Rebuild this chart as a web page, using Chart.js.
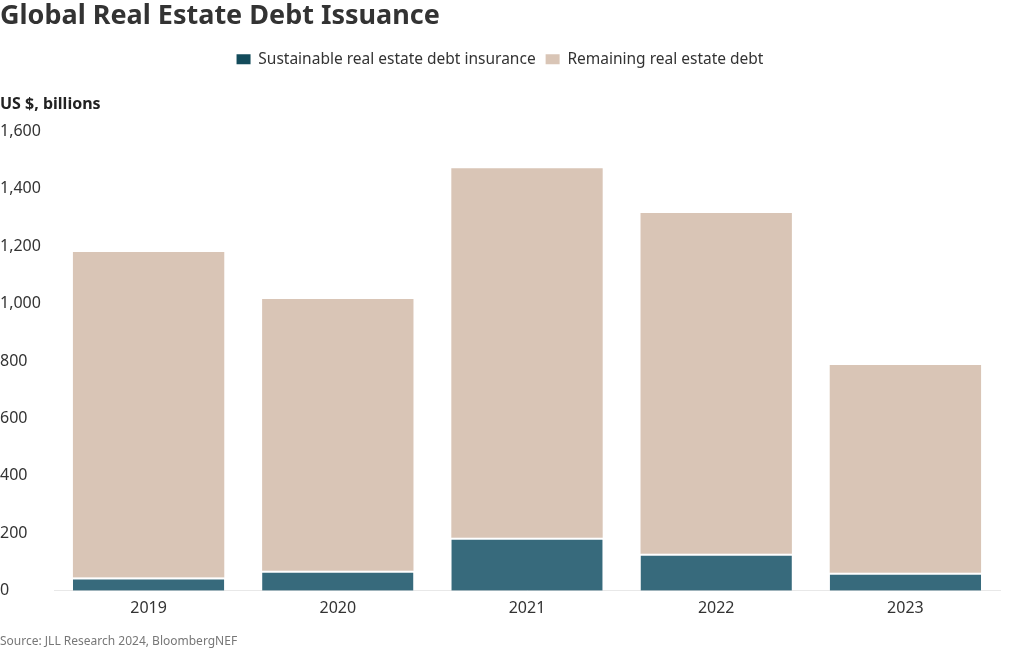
<!DOCTYPE html>
<html>
<head>
<meta charset="utf-8">
<script src="https://cdn.jsdelivr.net/npm/chart.js@4"></script>
<style>
html,body{margin:0;padding:0;background:#fff;}
#wrap{width:1020px;height:650px;position:relative;}
</style>
</head>
<body>
<div id="wrap"><canvas id="c"></canvas></div>
<script>
const categories = ["2019", "2020", "2021", "2022", "2023"];
const sustainable = [46, 70, 185, 129, 63];
const remaining = [1133, 946, 1286, 1186, 723];
const yTicks = [0, 200, 400, 600, 800, 1000, 1200, 1400, 1600];
const seriesNames = ["Sustainable real estate debt insurance", "Remaining real estate debt"];

const FONT = "'Noto Sans', 'Open Sans', sans-serif";

const sourceNote = {
  id: 'sourceNote',
  afterDraw(chart) {
    const ctx = chart.ctx;
    ctx.save();
    ctx.font = "12px " + FONT;
    ctx.fillStyle = "#777";
    ctx.textBaseline = "middle";
    ctx.textAlign = "left";
    ctx.fillText("Source: JLL Research 2024, BloombergNEF", 0, 642);
    ctx.restore();
  }
};

new Chart(document.getElementById('c'), {
  type: 'bar',
  data: {
    labels: categories,
    datasets: [
      {
        label: seriesNames[0],
        data: sustainable,
        backgroundColor: '#376a7c',
        borderColor: '#ffffff',
        borderWidth: {top: 2, left: 0, right: 0, bottom: 0},
        borderSkipped: 'start',
        categoryPercentage: 0.8,
        barPercentage: 1.0
      },
      {
        label: seriesNames[1],
        data: remaining,
        backgroundColor: '#d9c5b6',
        borderWidth: 0,
        categoryPercentage: 0.8,
        barPercentage: 1.0
      }
    ]
  },
  options: {
    responsive: true,
    maintainAspectRatio: false,
    animation: false,
    layout: {padding: {left: 0, right: 20, top: 0, bottom: 32}},
    plugins: {
      title: {
        display: true,
        text: "Global Real Estate Debt Issuance",
        align: 'start',
        color: '#333',
        font: {family: FONT, size: 27, weight: 'bold'},
        padding: {top: 0, bottom: 9}
      },
      subtitle: {
        display: true,
        text: "US $, billions",
        align: 'start',
        color: '#222',
        weight: 500,
        font: {family: FONT, size: 16, weight: 'bold'},
        padding: {top: 18, bottom: 17}
      },
      legend: {
        display: true,
        position: 'top',
        align: 'center',
        labels: {
          color: '#333',
          font: {family: FONT, size: 15.5},
          boxWidth: 14,
          boxHeight: 10,
          padding: 10,
          generateLabels(chart) {
            const items = Chart.defaults.plugins.legend.labels.generateLabels(chart);
            items.forEach((it, i) => {
              it.fillStyle = i === 0 ? '#134b5b' : '#d9c5b6';
              it.strokeStyle = it.fillStyle;
              it.lineWidth = 0;
            });
            return items;
          }
        }
      },
      tooltip: {enabled: false}
    },
    scales: {
      x: {
        stacked: true,
        grid: {display: false},
        border: {display: true, color: '#e8e8e8', width: 1},
        ticks: {color: '#333', font: {family: FONT, size: 16}, padding: 0}
      },
      y: {
        stacked: true,
        min: 0,
        max: 1600,
        afterBuildTicks(axis) { axis.ticks = yTicks.map(v => ({value: v})); },
        afterFit(axis) { axis.width = 54; },
        grid: {display: false},
        border: {display: false},
        ticks: {
          color: '#333',
          font: {family: FONT, size: 16},
          crossAlign: 'far',
          padding: 8,
          callback: v => v.toLocaleString('en-US')
        }
      }
    }
  },
  plugins: [sourceNote]
});
</script>
</body>
</html>
